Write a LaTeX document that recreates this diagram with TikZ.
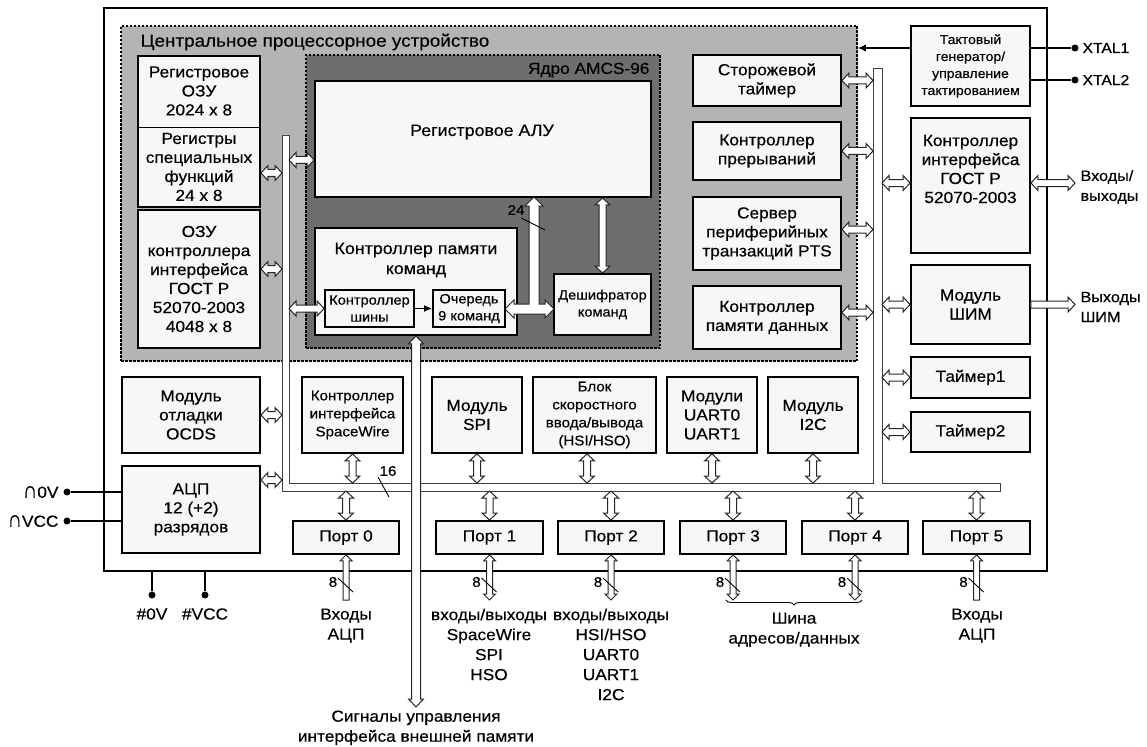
\documentclass[tikz,border=0pt]{standalone}
\usepackage{graphicx}
\usepackage{fontspec}
\setmainfont[FakeStretch=1.08,FakeBold=0.4]{Liberation Sans}
\usetikzlibrary{arrows.meta,calc,decorations.pathreplacing}
\definecolor{cpugray}{RGB}{180,180,180}
\definecolor{coregray}{RGB}{110,110,110}
\definecolor{boxfill}{RGB}{247,247,247}
\newcommand\fs[2]{\fontsize{#1}{#2}\selectfont}
\newcommand\capn{\scalebox{1.15}[1.45]{∩}}
\def\aS{3.5}\def\aH{7.5}\def\aL{7}
\newcommand\setarr[3]{\def\aS{#1}\def\aH{#2}\def\aL{#3}}
\makeatletter
\newcommand\harr[3][both]{%
  \path #2 coordinate (hA) #3 coordinate (hB);%
  \pgfpointdiff{\pgfpointanchor{hA}{center}}{\pgfpointanchor{hB}{center}}%
  \pgfgetlastxy{\hdx}{\hdy}%
  \pgfmathsetmacro\hang{atan2(\hdy,\hdx)}%
  \pgfmathsetmacro\hlen{veclen(\hdx,\hdy)}%
  \pgfmathsetmacro\hE{\hlen-\aL}%
  \begin{scope}[shift={(hA)},rotate=\hang]
  \csname harr@#1\endcsname
  \end{scope}}
\newcommand\harr@both{\draw[hol] (0pt,0pt) -- ({\aL*1pt},{\aH*1pt}) -- ({\aL*1pt},{\aS*1pt}) -- ({\hE*1pt},{\aS*1pt}) -- ({\hE*1pt},{\aH*1pt}) -- ({\hlen*1pt},0pt) -- ({\hE*1pt},{-\aH*1pt}) -- ({\hE*1pt},{-\aS*1pt}) -- ({\aL*1pt},{-\aS*1pt}) -- ({\aL*1pt},{-\aH*1pt}) -- cycle;}
\newcommand\harr@end{\draw[hol] (0pt,{\aS*1pt}) -- ({\hE*1pt},{\aS*1pt}) -- ({\hE*1pt},{\aH*1pt}) -- ({\hlen*1pt},0pt) -- ({\hE*1pt},{-\aH*1pt}) -- ({\hE*1pt},{-\aS*1pt}) -- (0pt,{-\aS*1pt}) -- cycle;}
\makeatother
\newcommand\bx[7][]{\node[box,#1,minimum width={#5-#3},minimum height={#6-#4}] (#2) at ({(#3+#5)/2},{(#4+#6)/2}) {#7};}
\begin{document}
\begin{tikzpicture}[x=1pt,y=-1pt,
  box/.style={draw=black,line width=1.9pt,fill=boxfill,align=center,inner sep=0pt,font=\fs{16}{19}},
  small/.style={font=\fs{13.5}{17}},
  region/.style={draw=black,line width=1.6pt,dash pattern=on 2.5pt off 1.5pt,inner sep=0pt},
  hol/.style={draw=black!85,line width=1pt,fill=white,line join=miter},
  bus/.style={draw=black!75,line width=0.9pt,fill=white},
  thinarrow/.style={line width=1.2pt,-{Latex[length=8pt,width=7pt]}},
  dot/.style={circle,fill=black,inner sep=0pt,minimum size=7pt},
  lbl/.style={align=center,font=\fs{16}{20}},
  num/.style={font=\fs{14}{16}},
  slash/.style={line width=0.9pt}]
\useasboundingbox (0,0) rectangle (1147,746);
\fill[white] (0,0) rectangle (1147,746);
% chip
\node[draw,line width=2pt,minimum width=943,minimum height=563,inner sep=0pt] (chip) at (575.5,289.5) {};
% CPU region
\node[region,fill=cpugray,minimum width=736,minimum height=335] (cpu) at (489,193.5) {};
\node[anchor=west,font=\fs{17.5}{20}] (cputitle) at (137,42) {Центральное процессорное устройство};
\node[region,fill=coregray,minimum width=354,minimum height=293] (core) at (483,201.5) {};
\node[anchor=east,font=\fs{16}{19}] (coretitle) at (653,70) {Ядро AMCS-96};
% left column
\bx{regbox}{138}{56}{260}{207}{}
\draw[line width=0.8pt] (regbox.west |- 0,127) -- (regbox.east |- 0,127);
\node[lbl,font=\fs{16}{19}] (regtxt) at (199,91) {Регистровое\\ОЗУ\\2024 x 8};
\node[lbl,font=\fs{16}{19}] (sfrtxt) at (199,167) {Регистры\\специальных\\функций\\24 x 8};
\bx{ozugost}{138}{210}{260}{348}{ОЗУ\\контроллера\\интерфейса\\ГОСТ Р\\52070-2003\\4048 x 8}
% core
\bx{alu}{315}{81}{651}{197}{}
\node[font=\fs{16.5}{20}] (alutxt) at (482,132) {Регистровое АЛУ};
\bx{kpk}{315}{228}{517}{335}{}
\node[lbl,font=\fs{16.5}{20}] (kpktxt) at (416,260) {Контроллер памяти\\команд};
\bx[small]{kshin}{325}{290}{414}{327}{Контроллер\\шины}
\bx[small]{queue}{433}{290}{505}{327}{Очередь\\9 команд}
\bx[small]{decoder}{554}{274}{651}{335}{Дешифратор\\команд}
% right of core
\bx{watchdog}{693}{55}{841}{106}{Сторожевой\\таймер}
\bx{intc}{693}{122}{841}{180}{Контроллер\\прерываний}
\bx{pts}{693}{197}{841}{270}{Сервер\\периферийных\\транзакций PTS}
\bx{kpd}{693}{286}{841}{349}{Контроллер\\памяти данных}
% right column
\bx[font=\fs{13}{17}]{clk}{911}{26}{1030}{106}{Тактовый\\генератор/\\управление\\тактированием}
\bx{gost}{911}{118}{1030}{253}{Контроллер\\интерфейса\\ГОСТ Р\\52070-2003\\[14pt]}
\bx{pwm}{911}{265}{1030}{344}{Модуль\\ШИМ}
\bx{tim1}{911}{357}{1030}{398}{Таймер1}
\bx{tim2}{911}{412}{1030}{452}{Таймер2}
% lower modules
\bx{ocds}{122}{377}{260}{453}{Модуль\\отладки\\OCDS}
\bx{adc}{122}{466}{260}{553}{АЦП\\12 (+2)\\разрядов}
\bx[font=\fs{14}{18}]{spw}{302}{377}{403}{453}{Контроллер\\интерфейса\\SpaceWire}
\bx{spi}{432}{377}{522}{453}{Модуль\\SPI}
\bx[font=\fs{14}{18}]{hsi}{533}{377}{656}{453}{Блок\\скоростного\\ввода/вывода\\(HSI/HSO)}
\bx{uart}{667}{377}{757}{453}{Модули\\UART0\\UART1}
\bx{i2c}{768}{377}{858}{453}{Модуль\\I2C}
% ports
\bx{p0}{293}{521}{399}{554}{Порт 0}
\bx{p1}{436}{521}{543}{554}{Порт 1}
\bx{p2}{558}{521}{664}{554}{Порт 2}
\bx{p3}{680}{521}{786}{554}{Порт 3}
\bx{p4}{802}{521}{908}{554}{Порт 4}
\bx{p5}{923}{521}{1030}{554}{Порт 5}
% bus
\coordinate (bLo) at (282,0);
\coordinate (bLi) at (289,0);
\coordinate (bRi) at (873,0);
\coordinate (bRo) at (882,0);
\coordinate (bT) at (0,483);
\coordinate (bB) at (0,491);
\coordinate (out) at (1075,0);
\coordinate (pbot) at (0,600);
\draw[bus] (282,135) -- (282,491) -- (1000,491) -- (1000,483) -- (882,483) -- (882,68) -- (873,68) -- (873,483) -- (289,483) -- (289,135) -- cycle;
% left bus arrows
\coordinate (a1) at ($(regbox.east)+(0,41.5)$);
\harr{(a1)}{(a1 -| bLo)}
\coordinate (a2) at ($(ozugost.east)+(0,-10)$);
\harr{(a2)}{(a2 -| bLo)}
\coordinate (a3) at ($(alu.west)+(0,21)$);
\harr{(a3 -| bLi)}{(a3)}
\harr{(kshin.west -| bLi)}{(kshin.west)}
\harr{(ocds.east)}{(ocds.east -| bLo)}
\coordinate (a4) at ($(adc.east)+(0,-29.5)$);
\harr{(a4)}{(a4 -| bLo)}
% right bus arrows
\harr{(watchdog.east)}{(watchdog.east -| bRi)}
\harr{(intc.east)}{(intc.east -| bRi)}
\coordinate (a5) at ($(pts.east)+(0,-4)$);
\harr{(a5)}{(a5 -| bRi)}
\coordinate (a6) at ($(kpd.east)+(0,-5)$);
\harr{(a6)}{(a6 -| bRi)}
\coordinate (a7) at ($(gost.west)+(0,-2.5)$);
\harr{(a7 -| bRo)}{(a7)}
\harr{(pwm.west -| bRo)}{(pwm.west)}
\harr{(tim1.west -| bRo)}{(tim1.west)}
\harr{(tim2.west -| bRo)}{(tim2.west)}
% outputs
\harr{(a7 -| gost.east)}{(a7 -| out)}
\harr[end]{(pwm.east)}{(pwm.east -| out)}
% modules to bus
\foreach \m in {spw,spi,uart,i2c} {\harr{(\m.south)}{(\m.south |- bT)}}
\coordinate (a8) at ($(hsi.south)+(-7.5,0)$);
\harr{(a8)}{(a8 |- bT)}
\foreach \p in {p0,p1,p2,p3,p4,p5} {\harr{(\p.north |- bB)}{(\p.north)}}
% port pins
\setarr{3}{6}{6}
\harr[end]{(p0.south |- pbot)}{(p0.south)}
\foreach \p in {p1,p2,p3,p4} {\harr{(\p.south)}{(\p.south |- pbot)}}
\harr[end]{(p5.south |- pbot)}{(p5.south)}
\foreach \p in {p0,p1,p2,p3,p4,p5} {
  \draw[slash] ($(\p.south |- pbot)+(-8,-22)$) -- ($(\p.south |- pbot)+(7,-8)$);
  \node[num] at ($(\p.south |- pbot)+(-13,-18)$) {8};
}
% core arrows
\setarr{3.5}{7.5}{7}
\harr{(decoder.north)}{(decoder.north |- alu.south)}
\draw[hol] (505,309) -- (514,300) -- (514,304) -- (529,304) -- (529,206) -- (525,206) -- (534,197) -- (543,206) -- (539,206) -- (539,304) -- (545,304) -- (545,300) -- (554,309) -- (545,318) -- (545,314) -- (514,314) -- (514,318) -- cycle;
\node[num] (n24) at (516,210) {24};
\draw[slash] (521,218) -- (545,230);
\draw[thinarrow] (kshin.east) -- (queue.west);
% clock
\coordinate (c1) at ($(clk.west)+(0,-18)$);
\draw[thinarrow] (c1) -- (c1 -| cpu.east);
\coordinate (c2) at ($(clk.east)+(0,-18)$);
\coordinate (c3) at ($(clk.east)+(0,14)$);
\node[dot] (x1) at (c2 -| out) {};
\node[dot] (x2) at (c3 -| out) {};
\draw[line width=1.2pt] (c2) -- (x1);
\draw[line width=1.2pt] (c3) -- (x2);
\node[anchor=west,font=\fs{14.5}{17}] at ($(x1)+(4,0)$) {XTAL1};
\node[anchor=west,font=\fs{14.5}{17}] at ($(x2)+(4,0)$) {XTAL2};
\node[anchor=west,align=left,font=\fs{15}{20}] at (1077,187) {Входы/\\выходы};
\node[anchor=west,align=left,font=\fs{15}{20}] at (1077,307) {Выходы\\ШИМ};
% analog supply
\coordinate (d0) at (67,0);
\coordinate (s1) at ($(adc.west)+(0,-17.5)$);
\coordinate (s2) at ($(adc.west)+(0,11.5)$);
\node[dot] (n0v) at (s1 -| d0) {};
\node[dot] (nvcc) at (s2 -| d0) {};
\draw[line width=1.2pt] (n0v) -- (s1);
\draw[line width=1.2pt] (nvcc) -- (s2);
\node[anchor=east,font=\fs{16}{19}] at ($(n0v)+(-5,0)$) {\capn 0V};
\node[anchor=east,font=\fs{16}{19}] at ($(nvcc)+(-5,0)$) {\capn VCC};
\node[dot] (g0) at (152,595) {};
\node[dot] (gv) at (205,595) {};
\draw[line width=1.2pt] (g0 |- chip.south) -- (g0);
\draw[line width=1.2pt] (gv |- chip.south) -- (gv);
\node[font=\fs{16}{19}] at (152,614) {\#0V};
\node[font=\fs{16}{19}] at (205,614) {\#VCC};
% bus width 16
\node[num] (n16) at (388,471) {16};
\draw[slash] (378,477) -- (389,497);
% external memory control
\setarr{4.5}{7.5}{8}
\harr{(kpk.south)}{(kpk.south |- 0,707)}
% brace
\draw[line width=0.9pt,decorate,decoration={brace,mirror,amplitude=5pt}] ($(p3.south |- pbot)+(-7,0)$) -- ($(p4.south |- pbot)+(7,0)$);
% bottom labels
\node[lbl,anchor=north] at (346,605) {Входы\\АЦП};
\node[lbl,anchor=north] at (489,605) {входы/выходы\\SpaceWire\\SPI\\HSO};
\node[lbl,anchor=north] at (611,605) {входы/выходы\\HSI/HSO\\UART0\\UART1\\I2C};
\node[lbl,anchor=north] at (794,609) {Шина\\адресов/данных};
\node[lbl,anchor=north] at (977,605) {Входы\\АЦП};
\node[lbl,anchor=north] at (416,707) {Сигналы управления\\интерфейса внешней памяти};
\end{tikzpicture}
\end{document}
